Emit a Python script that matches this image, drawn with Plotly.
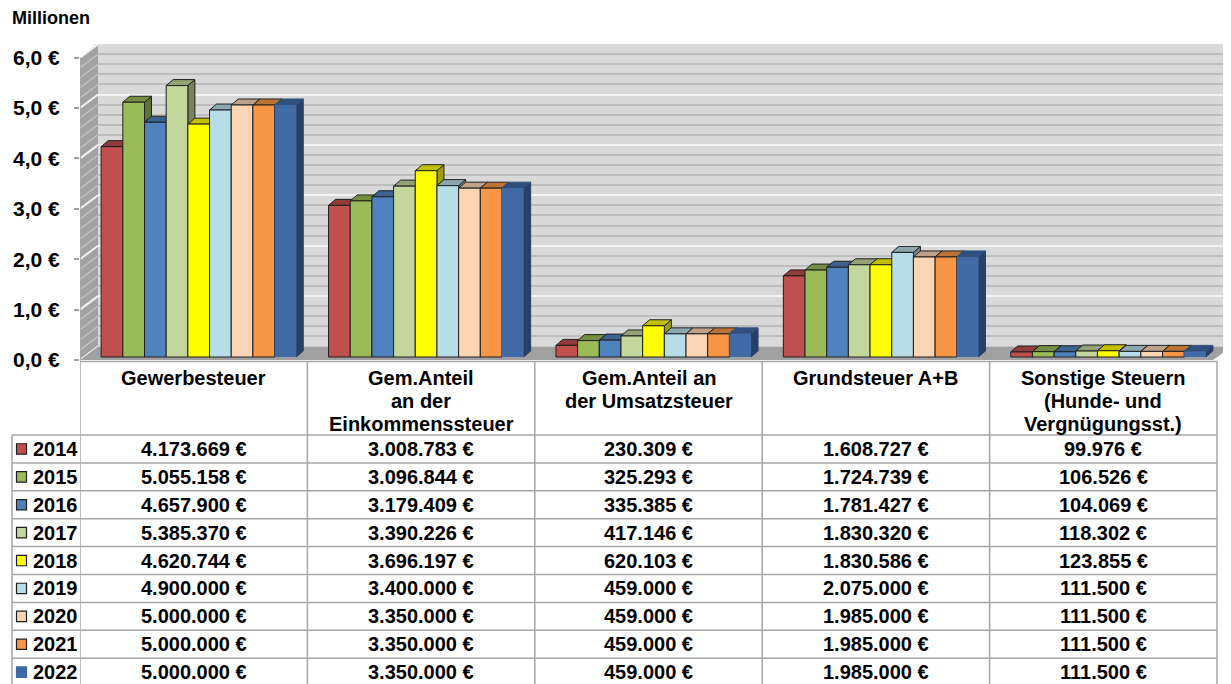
import plotly.graph_objects as go

# ---------------- data ----------------
years = ["2014", "2015", "2016", "2017", "2018", "2019", "2020", "2021", "2022"]
categories = [
    "Gewerbesteuer",
    "Gem.Anteil<br>an der<br>Einkommenssteuer",
    "Gem.Anteil an<br>der Umsatzsteuer",
    "Grundsteuer A+B",
    "Sonstige Steuern<br>(Hunde- und<br>Vergnügungsst.)",
]
gewerbesteuer = [4173669, 5055158, 4657900, 5385370, 4620744, 4900000, 5000000, 5000000, 5000000]
einkommensteuer = [3008783, 3096844, 3179409, 3390226, 3696197, 3400000, 3350000, 3350000, 3350000]
umsatzsteuer = [230309, 325293, 335385, 417146, 620103, 459000, 459000, 459000, 459000]
grundsteuer = [1608727, 1724739, 1781427, 1830320, 1830586, 2075000, 1985000, 1985000, 1985000]
sonstige = [99976, 106526, 104069, 118302, 123855, 111500, 111500, 111500, 111500]
series_by_category = [gewerbesteuer, einkommensteuer, umsatzsteuer, grundsteuer, sonstige]
year_colors = ["#C0504D", "#9BBB59", "#4F81BD", "#C3D69B", "#FFFF00",
               "#B7DEE8", "#FCD5B5", "#F79646", "#3F6AA6"]
outlined = [True, True, True, True, True, True, True, True, False]
tick_values = [0, 1, 2, 3, 4, 5, 6]
minor_per_major = 5
unit_label = "Millionen"

# ---------------- geometry (reference pixel coordinates) ----------------
OFF = 8           # page body margin
W, H = 1231 - OFF, 684 - OFF
L, T = 80, 44
PB = 360          # pixel row of value 0 on front plane
PR = 1231
PW, PH = PR - L, PB - T
S = 50.4          # px per million
COL = 227.4       # px per category
x0 = -0.5
x1 = x0 + PW / COL
ytop = PH / S


def ux(p):
    return p / COL


def uy(p):
    return p / S


def pyp(py):
    return (PB - py) / PH


def pxp(px):
    return (px - L) / PW


BACK = (18, 13.5)
FRONT = (5, 3)
DEPTH = (7, 6)
BARGAP = 0.142
n = len(years)
G = 1 - BARGAP
w = G / n

FONT = "Liberation Sans, Arial, sans-serif"
LINE = "#a6a6a6"


def shade(hexc, f):
    hexc = hexc.lstrip("#")
    r, g, b = (int(hexc[i:i + 2], 16) for i in (0, 2, 4))
    return "#%02x%02x%02x" % (int(r * f), int(g * f), int(b * f))


fig = go.Figure()

# ---------------- walls (base subplot, front coordinates) ----------------
bx, by = ux(BACK[0]), uy(BACK[1])
top_v = tick_values[-1]
fig.add_trace(go.Scatter(
    x=[x0, x0, x0 + bx, x0 + bx, x0], y=[0, top_v, top_v + by, by, 0],
    mode="lines", fill="toself", fillcolor="#a2a2a2", line=dict(width=0),
    hoverinfo="skip", showlegend=False))
levels = []
for t in tick_values:
    levels.append((t, True))
for t in tick_values[:-1]:
    for j in range(1, minor_per_major):
        levels.append((t + j / minor_per_major, False))
for v, major in levels:
    fig.add_trace(go.Scatter(
        x=[x0, x0 + bx], y=[v, v + by], mode="lines",
        line=dict(color="#f4f4f4" if major else "#c2c2c2", width=2 if major else 1.3),
        hoverinfo="skip", showlegend=False))
# floor
fig.add_trace(go.Scatter(
    x=[x0, x1 - bx, x1, x0 + bx, x0], y=[0, 0, by, by, 0],
    mode="lines", fill="toself", fillcolor="#a0a0a0", line=dict(width=0),
    hoverinfo="skip", showlegend=False))
# white corners
fig.add_trace(go.Scatter(
    x=[x0, x0, x0 + bx, x0], y=[top_v, ytop + 0.05, ytop + 0.05, top_v],
    mode="lines", fill="toself", fillcolor="white", line=dict(width=0),
    hoverinfo="skip", showlegend=False))
fig.add_trace(go.Scatter(
    x=[x1 - bx, x1 + 0.01, x1 + 0.01, x1 - bx], y=[0, 0, by, 0],
    mode="lines", fill="toself", fillcolor="white", line=dict(width=0),
    hoverinfo="skip", showlegend=False))
# invisible anchor so the back-wall grid axis gets drawn
fig.add_trace(go.Scatter(x=[x0], y=[0], xaxis="x", yaxis="y2", mode="markers",
                         marker=dict(opacity=0, size=1), hoverinfo="skip", showlegend=False))

# ---------------- bar faces (top / side) ----------------
dx, dy = ux(DEPTH[0]), uy(DEPTH[1])
for k, yr in enumerate(years):
    sx, sy, tx, ty = [], [], [], []
    for i, vals in enumerate(series_by_category):
        v = vals[k] / 1e6
        xl = i - G / 2 + k * w
        xr = xl + w
        sx += [xr, xr + dx, xr + dx, xr, xr, None]
        sy += [0, dy, v + dy, v, 0, None]
        tx += [xl, xr, xr + dx, xl + dx, xl, None]
        ty += [v, v, v + dy, v + dy, v, None]
    lc = "#1f1f1f" if outlined[k] else shade(year_colors[k], 0.62)
    fig.add_trace(go.Scatter(
        x=sx, y=sy, xaxis="x2", yaxis="y3", mode="lines", fill="toself",
        fillcolor=shade(year_colors[k], 0.62), line=dict(color=lc, width=1),
        hoverinfo="skip", showlegend=False))
    lc2 = "#1f1f1f" if outlined[k] else shade(year_colors[k], 0.75)
    fig.add_trace(go.Scatter(
        x=tx, y=ty, xaxis="x2", yaxis="y3", mode="lines", fill="toself",
        fillcolor=shade(year_colors[k], 0.76), line=dict(color=lc2, width=1),
        hoverinfo="skip", showlegend=False))

# ---------------- bars (front faces) ----------------
for k, yr in enumerate(years):
    fig.add_trace(go.Bar(
        x=list(range(len(categories))),
        y=[vals[k] / 1e6 for vals in series_by_category],
        xaxis="x2", yaxis="y4", name=yr,
        marker=dict(color=year_colors[k],
                    line=dict(color="#1f1f1f", width=1 if outlined[k] else 0)),
        showlegend=False))

# ---------------- axes ----------------
fx, fy = ux(FRONT[0]), uy(FRONT[1])
fig.update_layout(
    width=W, height=H,
    margin=dict(l=L - OFF, r=0, t=T - OFF, b=(684 - PB), pad=0),
    paper_bgcolor="white", plot_bgcolor="#d9d9d9",
    barmode="group", bargap=BARGAP, bargroupgap=0,
    font=dict(family=FONT, color="black"),
    xaxis=dict(range=[x0, x1], showgrid=False, zeroline=False, showticklabels=False,
               showline=False, ticks="", fixedrange=True),
    yaxis=dict(range=[0, ytop], tickmode="array", tickvals=tick_values,
               ticktext=[f"{t:.1f}".replace(".", ",") + " €" for t in tick_values],
               ticks="outside", ticklen=5, tickcolor="#a0a0a0", tickwidth=1.5,
               showgrid=False, zeroline=False, showline=False,
               ticklabelstandoff=10,
               tickfont=dict(family=FONT, size=21, color="black", weight="bold"),
               fixedrange=True),
    yaxis2=dict(overlaying="y", anchor="x", range=[-by, ytop - by],
                tickmode="linear", tick0=0, dtick=1,
                showgrid=True, gridcolor="#f4f4f4", gridwidth=2,
                minor=dict(tickmode="linear", tick0=0, dtick=1 / minor_per_major, showgrid=True,
                           gridcolor="#bdbdbd", gridwidth=1.5),
                showticklabels=False, ticks="", zeroline=False, showline=False,
                fixedrange=True),
    xaxis2=dict(overlaying="x", anchor="y3", range=[x0 - fx, x1 - fx], visible=False,
                fixedrange=True),
    yaxis3=dict(overlaying="y", anchor="x2", range=[-fy, ytop - fy], visible=False,
                fixedrange=True),
    yaxis4=dict(overlaying="y", anchor="x2", range=[-fy, ytop - fy], visible=False,
                fixedrange=True),
)

# ---------------- table ----------------
shapes = []
annotations = []
ROW0 = 435
ROWH = 27.9
BOTTOM = 700
col_edges = [x0 + c for c in range(len(categories) + 1)]
shapes.append(dict(type="line", xref="x", yref="y", x0=x0, x1=x0, y0=0, y1=top_v,
                   line=dict(color=LINE, width=1.5)))
shapes.append(dict(type="line", xref="x", yref="paper", x0=x0, x1=x0,
                   y0=pyp(PB), y1=pyp(BOTTOM), line=dict(color=LINE, width=1.5)))
for ce in col_edges[1:]:
    shapes.append(dict(type="line", xref="x", yref="paper", x0=ce, x1=ce,
                       y0=pyp(361.5), y1=pyp(BOTTOM), line=dict(color=LINE, width=1.5)))
shapes.append(dict(type="line", xref="paper", yref="paper", x0=pxp(12), x1=pxp(12),
                   y0=pyp(ROW0), y1=pyp(BOTTOM), line=dict(color=LINE, width=1.5)))
shapes.append(dict(type="line", xref="x", yref="paper", x0=x0, x1=col_edges[-1],
                   y0=pyp(361.5), y1=pyp(361.5), line=dict(color=LINE, width=1.5)))
for r in range(n + 1):
    yy = pyp(ROW0 + r * ROWH)
    shapes.append(dict(type="line", xref="paper", yref="paper", x0=pxp(12),
                       x1=pxp(L + len(categories) * COL),
                       y0=yy, y1=yy, line=dict(color=LINE, width=1.5)))

# header text
for i, cat in enumerate(categories):
    for j, line in enumerate(cat.split("<br>")):
        annotations.append(dict(x=i, xref="x", y=pyp(378 + j * 23), yref="paper",
                                text=f"<b>{line}</b>", showarrow=False,
                                xanchor="center", yanchor="middle",
                                font=dict(family=FONT, size=20, color="black")))

# rows
for k, yr in enumerate(years):
    yc = ROW0 + (k + 0.5) * ROWH
    shapes.append(dict(type="rect", xref="paper", yref="paper",
                       x0=pxp(16.5), x1=pxp(26.5), y0=pyp(yc - 5.2), y1=pyp(yc + 5.2),
                       fillcolor=year_colors[k],
                       line=dict(color="#1f1f1f" if outlined[k] else year_colors[k], width=1.2)))
    annotations.append(dict(x=pxp(31), xref="paper", y=pyp(yc), yref="paper",
                            text=f"<b>{yr}</b>", showarrow=False, xanchor="left", yanchor="middle",
                            font=dict(family=FONT, size=20, color="black")))
    for i, vals in enumerate(series_by_category):
        txt = f"{vals[k]:,}".replace(",", ".") + " €"
        annotations.append(dict(x=i, xref="x", y=pyp(yc), yref="paper",
                                text=f"<b>{txt}</b>", showarrow=False,
                                xanchor="center", yanchor="middle",
                                font=dict(family=FONT, size=20, color="black")))

annotations.append(dict(x=pxp(10), xref="paper", y=pyp(18), yref="paper",
                        text=f"<b>{unit_label}</b>", showarrow=False,
                        xanchor="left", yanchor="middle",
                        font=dict(family=FONT, size=18, color="black")))

fig.update_layout(shapes=shapes, annotations=annotations)

fig.write_html("out.html")
